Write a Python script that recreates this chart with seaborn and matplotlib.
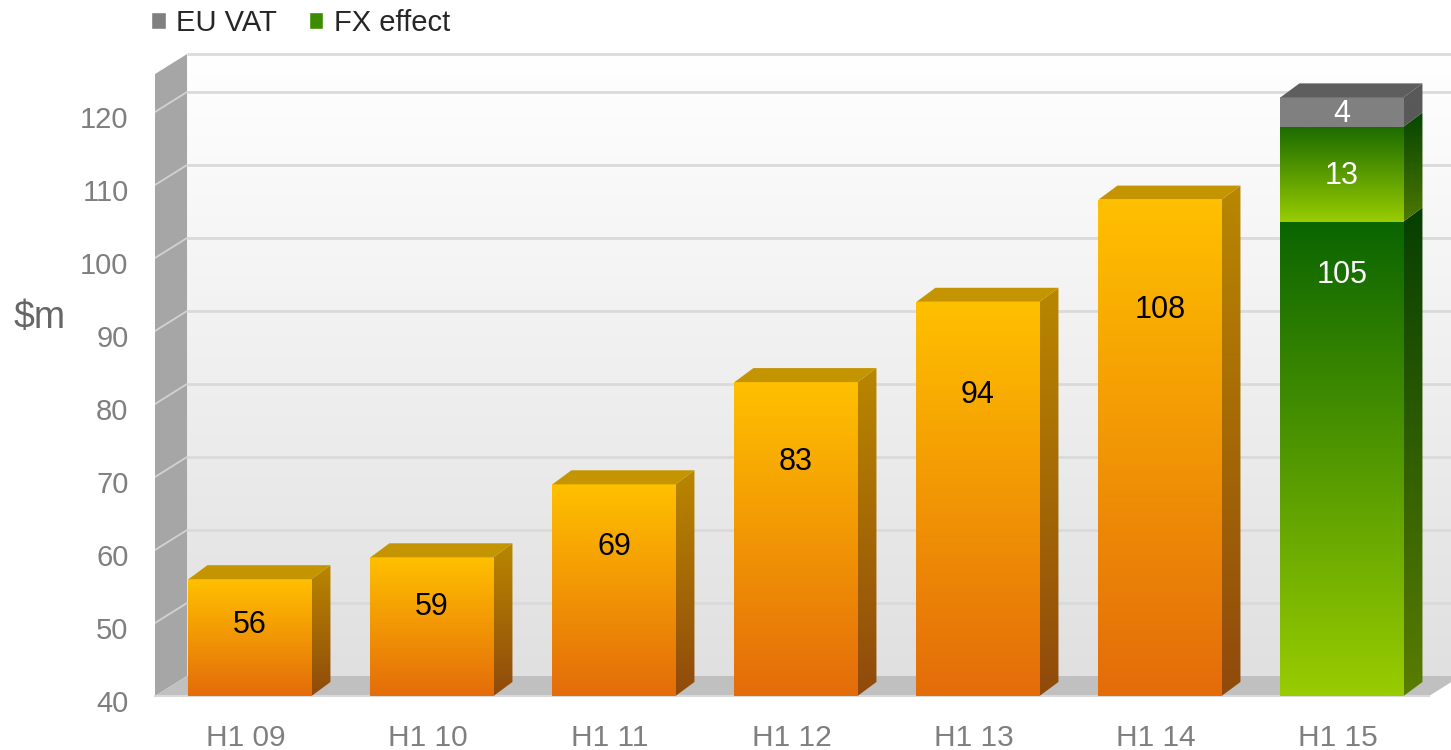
import numpy as np
import matplotlib
matplotlib.use("Agg")
import matplotlib.pyplot as plt
import seaborn as sns
from matplotlib.patches import Polygon, Patch
from matplotlib.colors import LinearSegmentedColormap
from matplotlib.transforms import ScaledTranslation

# data
periods = ["H1 09", "H1 10", "H1 11", "H1 12", "H1 13", "H1 14", "H1 15"]
revenue = [56, 59, 69, 83, 94, 108, 105]
fx_effect = 13   # only on H1 15
eu_vat = 4       # only on H1 15
y_ticks = [40, 50, 60, 70, 80, 90, 100, 110, 120]

sns.set_style("white")
plt.rcParams["font.family"] = ["Liberation Sans", "DejaVu Sans"]

# pseudo 3d geometry (data units)
Y0 = 40
WALL_TOP = 125.2
DXW, DYW = 0.176, 2.74      # depth of walls / floor
DX, DY = 0.104, 1.92        # depth of bars
XMAX = -0.5 + 1296 / 182
YMAX = Y0 + 696 / 7.3

fig = plt.figure(figsize=(14.51, 7.5), dpi=100)
ax = fig.add_axes([155 / 1451, 54 / 750, 1296 / 1451, 696 / 750])


def vgrad(clip, extent, c_top, c_bot, z):
    cmap = LinearSegmentedColormap.from_list("g", [c_bot, c_top])
    im = ax.imshow(np.linspace(0, 1, 256).reshape(-1, 1), cmap=cmap, extent=extent,
                   origin="lower", aspect="auto", interpolation="bilinear", zorder=z)
    im.set_clip_path(clip)


def poly(pts, fc, z):
    p = Polygon(pts, closed=True, facecolor=fc, edgecolor="none", zorder=z)
    ax.add_patch(p)
    return p


# back wall
wall = poly([(-0.5 + DXW, Y0 + DYW), (XMAX + 1, Y0 + DYW), (XMAX + 1, WALL_TOP + DYW),
             (-0.5 + DXW, WALL_TOP + DYW)], "none", 0)
vgrad(wall, (-0.5 + DXW, XMAX, Y0 + DYW, WALL_TOP + DYW), "#FFFFFF", "#E0E0E0", 0.5)
for v in y_ticks[1:] + [WALL_TOP]:
    ax.plot([-0.5 + DXW, XMAX], [v + DYW, v + DYW], color="#DADADA", lw=2, zorder=1,
            solid_capstyle="butt")

# left wall
poly([(-0.5, Y0), (-0.5 + DXW, Y0 + DYW), (-0.5 + DXW, WALL_TOP + DYW), (-0.5, WALL_TOP)],
     "#A6A6A6", 1.2)
for v in y_ticks[1:]:
    ax.plot([-0.5, -0.5 + DXW], [v, v + DYW], color="#D2D2D2", lw=1.3, zorder=1.3)

# floor
poly([(-0.5, Y0), (6.5, Y0), (6.5 + DXW, Y0 + DYW), (-0.5 + DXW, Y0 + DYW)], "#C0C0C0", 1.4)

# front faces of the bars
sns.barplot(x=periods, y=revenue, ax=ax, width=0.676, color="#F5A000", saturation=1,
            zorder=4)
fronts = list(ax.patches)[-len(periods):]

orange = dict(front=("#FFC000", "#E46C0A"), side=("#B98700", "#904A0C"), top="#C49500")
green = dict(front=("#0A6400", "#99CC00"), side=("#063F00", "#5A7D00"), top="#1E5E00")
fx_col = dict(front=("#1C6C00", "#99CC00"), side=("#064600", "#4E7800"), top="#1E5E00")
vat_col = dict(front=("#808080", "#808080"), side=("#595959", "#595959"), top="#5E5E5E")


def draw_face(front_patch, b, t, cols, with_top):
    x0 = front_patch.get_x()
    x1 = x0 + front_patch.get_width()
    front_patch.set_edgecolor("none")
    vgrad(front_patch, (x0, x1, b, t), cols["front"][0], cols["front"][1], 4.5)
    side = poly([(x1, b), (x1 + DX, b + DY), (x1 + DX, t + DY), (x1, t)], "none", 4)
    vgrad(side, (x1, x1 + DX, b, t + DY), cols["side"][0], cols["side"][1], 4.4)
    if with_top:
        poly([(x0, t), (x0 + DX, t + DY), (x1 + DX, t + DY), (x1, t)], cols["top"], 4.6)
    return (x0 + x1) / 2


LBL = 22
last = len(periods) - 1
for i, p in enumerate(fronts):
    p.set_x(p.get_x() + 0.022)
    v = revenue[i]
    if i < last:
        cx = draw_face(p, Y0, v, orange, True)
        ax.text(cx, 0.83 * v + 3.2, str(v), ha="center", va="center", fontsize=LBL,
                color="black", zorder=6)
    else:
        cx = draw_face(p, Y0, v, green, False)
        ax.text(cx, v - 7.3, str(v), ha="center", va="center", fontsize=LBL,
                color="white", zorder=6)
        fx_bar = ax.bar(cx, fx_effect, bottom=v, width=p.get_width(), color="#6FA000",
                        zorder=4)[0]
        draw_face(fx_bar, v, v + fx_effect, fx_col, False)
        ax.text(cx, v + fx_effect / 2 - 0.3, str(fx_effect), ha="center", va="center",
                fontsize=LBL, color="white", zorder=6)
        vat_bar = ax.bar(cx, eu_vat, bottom=v + fx_effect, width=p.get_width(),
                         color="#808080", zorder=4)[0]
        draw_face(vat_bar, v + fx_effect, v + fx_effect + eu_vat, vat_col, True)
        ax.text(cx, v + fx_effect + eu_vat / 2 - 0.3, str(eu_vat), ha="center",
                va="center", fontsize=LBL, color="white", zorder=6)

ax.set_xlim(-0.5, XMAX)
ax.set_ylim(Y0, YMAX)
ax.set_xlabel("")
ax.set_ylabel("")

# axes, ticks
for s in ["top", "right", "left"]:
    ax.spines[s].set_visible(False)
ax.spines["bottom"].set_color("#D9D9D9")
ax.spines["bottom"].set_linewidth(1.5)
ax.spines["bottom"].set_bounds(-0.5, 6.5)
ax.set_xticks(range(len(periods)))
ax.set_xticklabels(periods)
ax.set_xticks(np.arange(-0.5, len(periods), 1), minor=True)
ax.tick_params(axis="x", which="major", length=0, pad=20, labelsize=21.5, labelcolor="#7F7F7F")
ax.tick_params(axis="x", which="minor", length=5, width=1.5, color="#C8C8C8")
ax.set_yticks(y_ticks)
ax.set_yticklabels([str(v) for v in y_ticks])
ax.tick_params(axis="y", length=0, pad=19, labelsize=21, labelcolor="#7F7F7F")
for lbl in ax.get_yticklabels():
    lbl.set_transform(lbl.get_transform() + ScaledTranslation(0, -5 / 100, fig.dpi_scale_trans))

fig.text(14 / 1451, 1 - 318 / 750, "$m", fontsize=27, color="#666666", va="center", ha="left")

handles = [Patch(facecolor="#808080", label="EU VAT"),
           Patch(facecolor="#3C8C00", label="FX effect")]
fig.legend(handles=handles, loc="upper left", bbox_to_anchor=(151 / 1451, 1 - 9 / 750),
           ncol=2, frameon=False, fontsize=21, handlelength=0.5, handleheight=0.55,
           handletextpad=0.35, columnspacing=1.1, borderpad=0, borderaxespad=0)

fig.savefig("out.png", dpi=100)
